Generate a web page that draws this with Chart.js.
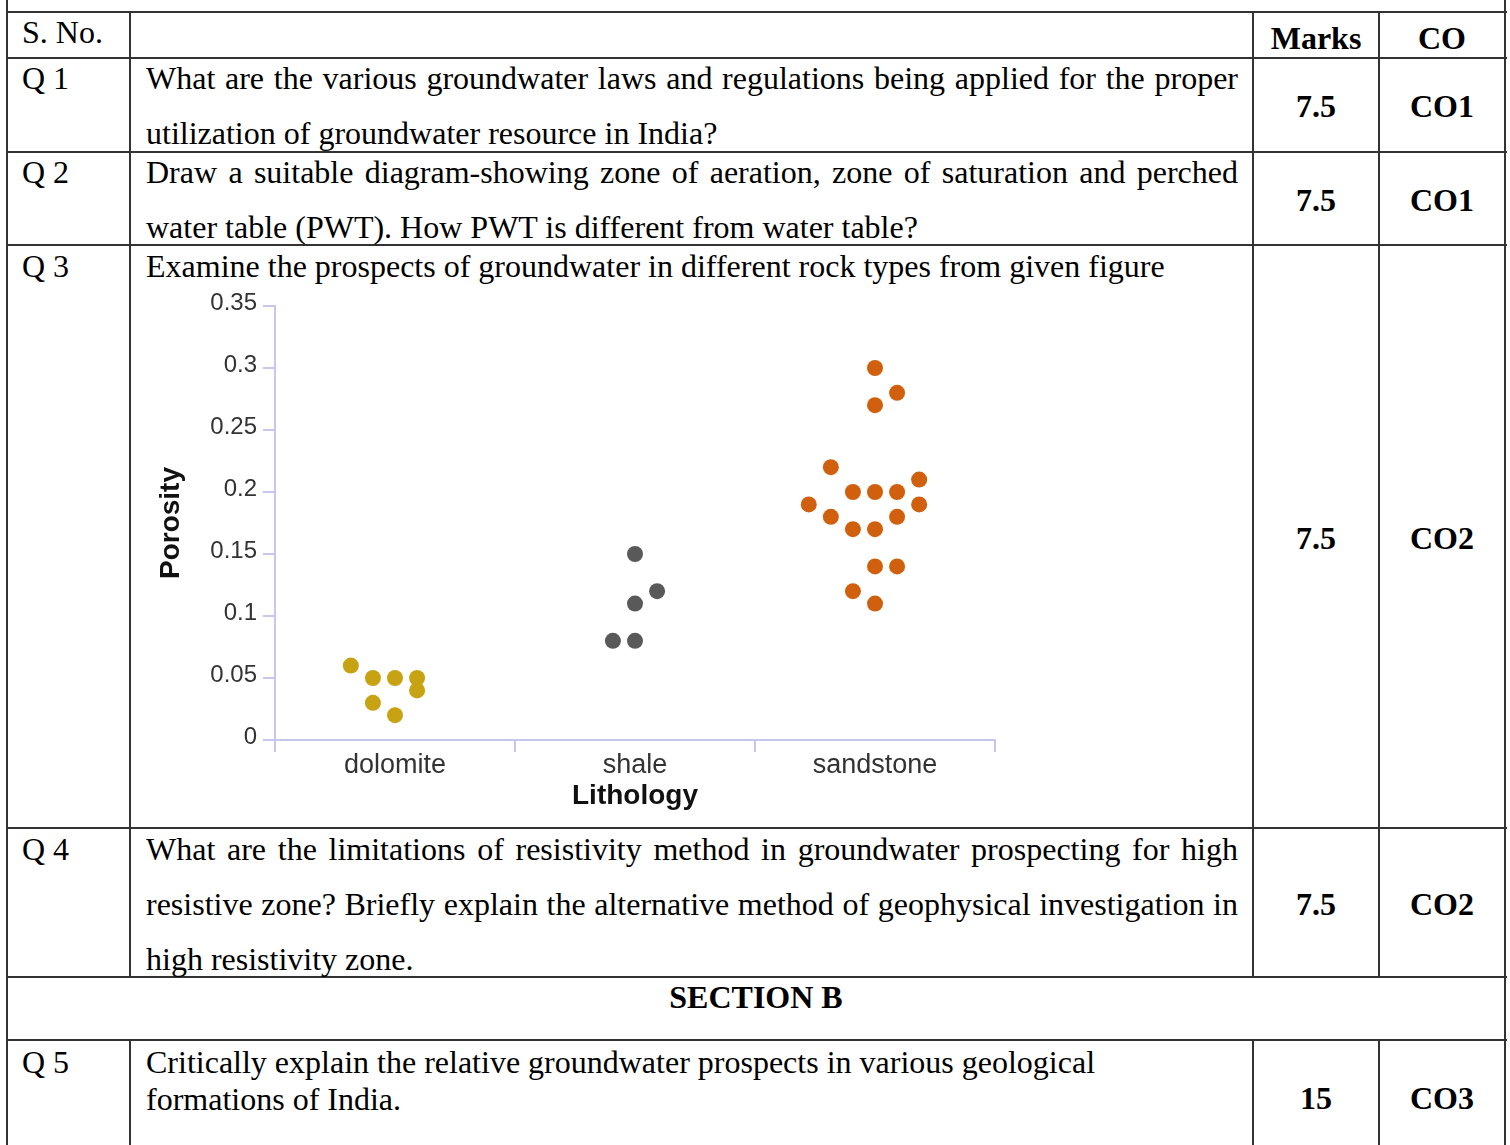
<!DOCTYPE html>
<html>
<head>
<meta charset="utf-8">
<script src="https://cdn.jsdelivr.net/npm/chart.js@4.4.0/dist/chart.umd.min.js"></script>
<style>
body { margin:0; background:#fff; width:1510px; height:1145px; overflow:hidden; position:relative;
       font-family:"Liberation Serif","Times New Roman",serif; font-size:32px; color:#000; }
.h { position:absolute; left:6px; width:1501px; height:2px; background:#333; }
.v { position:absolute; width:2px; background:#333; }
.t { position:absolute; height:40px; line-height:40px; white-space:nowrap; }
.q { left:146px; width:1092px; }
.j { text-align:justify; text-align-last:justify; white-space:normal; overflow:hidden; }
.n { left:22px; }
.m { left:1253px; width:126px; text-align:center; font-weight:bold; }
.c { left:1379px; width:126px; text-align:center; font-weight:bold; }
#chartBox { position:absolute; left:150px; top:285px; }
</style>
</head>
<body>

<!-- table lines -->
<div class="h" style="top:11px"></div>
<div class="h" style="top:57px"></div>
<div class="h" style="top:151px"></div>
<div class="h" style="top:244px"></div>
<div class="h" style="top:827px"></div>
<div class="h" style="top:976px"></div>
<div class="h" style="top:1039px"></div>
<div class="v" style="left:6px; top:0; height:1145px"></div>
<div class="v" style="left:1504px; top:0; height:1145px"></div>
<div class="v" style="left:129px; top:11px; height:967px"></div>
<div class="v" style="left:1252px; top:11px; height:967px"></div>
<div class="v" style="left:1378px; top:11px; height:967px"></div>
<div class="v" style="left:129px; top:1039px; height:106px"></div>
<div class="v" style="left:1252px; top:1039px; height:106px"></div>
<div class="v" style="left:1378px; top:1039px; height:106px"></div>

<!-- header -->
<div class="t n" style="top:12px">S. No.</div>
<div class="t m" style="top:18px">Marks</div>
<div class="t c" style="top:18px">CO</div>

<!-- Q1 -->
<div class="t n" style="top:58px">Q 1</div>
<div class="t q j" style="top:58px">What are the various groundwater laws and regulations being applied for the proper</div>
<div class="t q" style="top:113px">utilization of groundwater resource in India?</div>
<div class="t m" style="top:86px">7.5</div>
<div class="t c" style="top:86px">CO1</div>

<!-- Q2 -->
<div class="t n" style="top:152px">Q 2</div>
<div class="t q j" style="top:152px">Draw a suitable diagram-showing zone of aeration, zone of saturation and perched</div>
<div class="t q" style="top:207px">water table (PWT). How PWT is different from water table?</div>
<div class="t m" style="top:180px">7.5</div>
<div class="t c" style="top:180px">CO1</div>

<!-- Q3 -->
<div class="t n" style="top:246px">Q 3</div>
<div class="t q" style="top:246px">Examine the prospects of groundwater in different rock types from given figure</div>
<div class="t m" style="top:518px">7.5</div>
<div class="t c" style="top:518px">CO2</div>
<div id="chartBox"><canvas id="porosityChart" width="870" height="532"></canvas></div>

<!-- Q4 -->
<div class="t n" style="top:829px">Q 4</div>
<div class="t q j" style="top:829px">What are the limitations of resistivity method in groundwater prospecting for high</div>
<div class="t q j" style="top:884px">resistive zone? Briefly explain the alternative method of geophysical investigation in</div>
<div class="t q" style="top:939px">high resistivity zone.</div>
<div class="t m" style="top:884px">7.5</div>
<div class="t c" style="top:884px">CO2</div>

<!-- section B -->
<div class="t" style="top:977px; left:7px; width:1498px; text-align:center; font-weight:bold">SECTION B</div>

<!-- Q5 -->
<div class="t n" style="top:1042px">Q 5</div>
<div class="t q" style="top:1042px">Critically explain the relative groundwater prospects in various geological</div>
<div class="t q" style="top:1079px">formations of India.</div>
<div class="t m" style="top:1078px">15</div>
<div class="t c" style="top:1078px">CO3</div>

<script>
// chart data
const categories = ['dolomite', 'shale', 'sandstone'];
const yTicks = [0, 0.05, 0.1, 0.15, 0.2, 0.25, 0.3, 0.35];

// slot = column of the dot inside its lithology (beeswarm), porosity = value
const dolomiteSlot     = [-2, -1, 0, 1, 1, -1, 0];
const dolomitePorosity = [0.06, 0.05, 0.05, 0.05, 0.04, 0.03, 0.02];

const shaleSlot     = [0, 1, 0, -1, 0];
const shalePorosity = [0.15, 0.12, 0.11, 0.08, 0.08];

const sandstoneSlot     = [0, 1, 0, -2, 2, -1, 0, 1, -3, 2, -2, 1, -1, 0, 0, 1, -1, 0];
const sandstonePorosity = [0.30, 0.28, 0.27, 0.22, 0.21, 0.20, 0.20, 0.20, 0.19, 0.19, 0.18, 0.18, 0.17, 0.17, 0.14, 0.14, 0.12, 0.11];

var axisColor = '#c6c6ee';
var dotStep = 0.092;

function points(catIndex, slots, values)
{
    return values.map(function(v, i) {
        return { x: catIndex + 0.5 + slots[i] * dotStep, y: v };
    });
}

function dataset(label, pts, color)
{
    return {
        label           : label,
        data            : pts,
        backgroundColor : color,
        borderWidth     : 0,
        pointRadius     : 8,
        pointHoverRadius: 8
    };
}

var ctx = document.getElementById('porosityChart').getContext('2d');

new Chart(ctx, {
    type: 'scatter',
    data: {
        datasets: [
            dataset(categories[0], points(0, dolomiteSlot, dolomitePorosity), '#c7a313'),
            dataset(categories[1], points(1, shaleSlot, shalePorosity), '#595959'),
            dataset(categories[2], points(2, sandstoneSlot, sandstonePorosity), '#d0600e')
        ]
    },
    options: {
        responsive : false,
        animation  : false,
        layout     : { padding: { top: 21, right: 25, left: 0, bottom: 0 } },
        plugins    : { legend: { display: false }, tooltip: { enabled: false } },
        scales: {
            x: {
                type: 'linear',
                min : 0,
                max : 3,
                afterBuildTicks: function(scale) {
                    scale.ticks = [0, 0.5, 1, 1.5, 2, 2.5, 3].map(function(v) { return { value: v }; });
                },
                afterFit: function(scale) { scale.height = 77; },
                ticks: {
                    autoSkip   : false,
                    maxRotation: 0,
                    padding    : 0,
                    color      : '#333',
                    font       : { family: 'Liberation Sans, Arial, sans-serif', size: 27, lineHeight: 1 },
                    callback   : function(v) { return (v % 1 === 0.5) ? categories[Math.floor(v)] : ''; }
                },
                grid: {
                    drawOnChartArea: false,
                    tickLength     : 12,
                    lineWidth      : 2,
                    color          : function(c) { return (c.tick && c.tick.value % 1 === 0) ? axisColor : 'rgba(0,0,0,0)'; }
                },
                border: { color: axisColor, width: 2 },
                title: {
                    display: true,
                    text   : 'Lithology',
                    color  : '#111',
                    font   : { family: 'Liberation Sans, Arial, sans-serif', size: 28, weight: 'bold' },
                    padding: { top: 0, bottom: 4 }
                }
            },
            y: {
                min: 0,
                max: 0.35,
                afterBuildTicks: function(scale) {
                    scale.ticks = yTicks.map(function(v) { return { value: v }; });
                },
                afterFit: function(scale) { scale.width = 125; },
                ticks: {
                    padding    : 6,
                    labelOffset: -3,
                    color      : '#333',
                    font       : { family: 'Liberation Sans, Arial, sans-serif', size: 24 },
                    callback   : function(v) { return String(+v.toFixed(2)); }
                },
                grid: {
                    drawOnChartArea: false,
                    tickLength     : 12,
                    lineWidth      : 2,
                    color          : axisColor
                },
                border: { color: axisColor, width: 2 },
                title: {
                    display: true,
                    text   : 'Porosity',
                    color  : '#111',
                    font   : { family: 'Liberation Sans, Arial, sans-serif', size: 28, weight: 'bold' },
                    padding: { top: 4, bottom: 0 }
                }
            }
        }
    }
});
</script>
</body>
</html>
